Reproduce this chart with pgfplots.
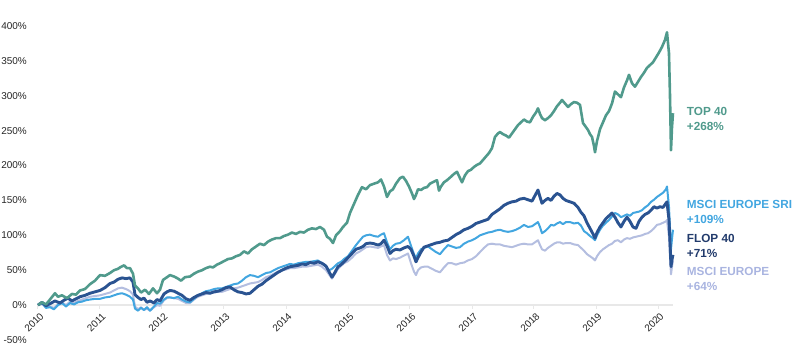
\documentclass[border=0pt]{standalone}
\usepackage{pgfplots}
\usepackage{pgfplotstable}
\usepackage{fontspec}
\setmainfont{Liberation Sans}
\pgfplotsset{compat=1.18}
\definecolor{topc}{HTML}{509A8C}
\definecolor{flopc}{HTML}{2A5391}
\definecolor{flopt}{HTML}{223B6C}
\definecolor{sric}{HTML}{42A6E0}
\definecolor{msc}{HTML}{B4BEE0}
\definecolor{mst}{HTML}{A9B4E0}
\definecolor{gridc}{HTML}{E8E8E8}

% x values: horizontal position (px), year = 2010 + (px-38)/62
\pgfplotstableread{
px v
38 0
42 4
46 1
50 8
55 17
58 12
62 14
67 10
72 16
76 15
80 21
85 23
90 30
95 35
100 43
105 42
110 46
114 50
118 52
120 54
124 57
127 53
130 53
133 45
135 28
138 24
141 18
145 22
149 16
153 24
157 17
160 22
163 36
167 40
170 43
174 41
178 38
181 35
185 40
190 41
194 45
198 48
202 50
206 53
210 55
213 54
217 58
220 60
224 63
228 66
232 67
236 70
240 72
244 77
248 74
252 80
256 84
260 88
264 86
268 91
272 94
276 96
280 96
284 99
288 101
292 104
296 102
300 105
304 104
308 108
312 110
316 109
320 112
324 108
327 98
330 95
333 89
336 100
340 106
343 112
347 118
350 132
354 145
358 158
362 169
366 166
370 172
374 174
378 176
381 180
384 170
387 155
390 163
393 166
396 174
400 182
403 184
406 178
409 170
412 160
414 152
416 158
418 166
421 165
424 168
427 169
430 174
434 177
437 179
439 164
441 170
444 176
447 179
451 184
454 188
457 191
460 182
462 176
465 186
468 192
471 194
474 198
477 201
480 203
483 208
486 213
489 218
492 225
495 241
498 246
500 248
503 245
506 243
509 240
512 246
515 252
518 258
521 262
524 266
527 263
530 262
533 270
536 276
538 282
540 274
542 268
545 265
548 268
551 272
554 278
557 285
560 290
562 294
565 289
568 284
571 288
574 291
577 290
580 287
583 261
586 255
588 251
590 245
592 241
594 228
595 219
597 235
600 252
603 262
606 272
609 278
612 289
615 306
618 302
621 298
624 312
627 322
629 330
632 318
635 313
638 320
641 327
644 333
647 340
650 344
653 348
656 355
659 362
662 370
665 380
667 391
669 361
670 300
671 222
672 255
673 275
}\toptable

\pgfplotstableread{
px v
38 0
42 4
46 -1
50 2
55 6
60 3
64 7
68 10
72 6
76 9
80 12
85 14
90 17
95 19
100 21
105 25
110 31
114 33
118 37
122 39
126 38
130 39
133 33
135 15
138 11
141 8
144 10
147 4
150 6
154 3
157 8
160 6
164 16
167 19
170 21
174 20
178 17
182 14
186 9
190 7
194 11
198 14
202 16
206 18
210 17
214 19
218 20
222 22
226 25
230 26
234 22
238 19
242 18
246 16
250 17
254 22
258 27
262 30
266 35
270 39
274 43
278 47
282 50
286 53
290 55
294 56
298 57
302 59
306 58
310 61
314 60
318 62
322 60
326 56
329 48
332 40
335 47
338 55
341 58
344 62
348 68
352 74
356 80
360 82
363 84
366 88
370 89
374 88
378 86
381 88
384 93
387 85
390 74
393 78
396 80
400 79
404 82
408 84
411 80
414 70
416 62
418 68
421 76
424 83
428 85
432 87
436 89
440 90
444 92
448 93
452 97
456 101
460 104
464 108
468 110
472 113
476 117
480 119
484 121
488 123
492 130
496 134
500 138
504 143
508 146
512 148
516 149
520 152
524 153
528 151
532 149
535 157
538 165
540 155
542 146
545 150
548 153
551 150
554 156
557 160
560 158
563 153
566 150
570 148
574 146
578 140
581 133
584 128
587 118
590 110
593 102
595 96
597 104
600 112
603 118
606 124
609 128
612 132
615 126
618 118
621 112
624 120
627 126
630 120
633 112
636 110
639 120
642 126
645 130
648 132
651 136
654 141
657 139
660 141
663 140
666 146
667 148
669 122
670 90
671 55
672 65
673 72
}\floptable

\pgfplotstableread{
px v
38 0
42 3
46 -4
50 -3
54 -6
58 0
62 3
66 -2
70 3
74 1
78 4
82 5
86 7
90 8
95 9
100 9
105 11
110 12
114 14
118 16
122 17
126 15
130 12
133 8
135 -5
138 -8
141 -4
144 -7
147 -3
150 -8
154 -2
157 3
160 2
164 8
167 11
170 11
174 10
178 12
182 8
186 5
190 4
194 9
198 14
202 17
206 20
210 21
214 23
218 24
222 24
226 26
230 28
234 30
238 31
242 35
246 40
250 43
254 42
258 40
262 43
266 46
270 47
274 50
278 53
282 55
286 57
290 59
294 58
298 60
302 61
306 62
310 62
314 63
318 64
322 60
326 55
329 50
332 52
335 56
338 60
341 62
344 66
348 70
352 78
356 86
360 93
363 98
366 100
370 101
374 99
378 98
381 101
384 103
387 90
390 80
393 85
396 88
400 89
404 93
408 98
411 85
414 73
416 67
418 74
421 80
424 82
428 84
432 80
436 76
440 73
444 80
448 86
452 84
456 82
460 83
464 88
468 91
472 93
476 96
480 100
484 102
488 104
492 105
496 107
500 108
504 106
508 105
512 106
516 108
520 111
524 115
528 112
532 113
535 116
538 119
540 112
542 103
545 106
548 110
551 115
554 114
557 117
560 119
563 116
566 119
570 119
574 117
578 118
581 114
584 106
587 103
590 99
593 96
595 93
597 100
600 108
603 114
606 118
609 122
612 127
615 132
618 130
621 126
624 128
627 130
630 128
633 132
636 133
639 134
642 136
645 140
648 143
651 148
654 151
657 155
660 158
663 161
666 166
667 170
669 141
670 110
671 80
672 95
673 108
}\sritable

\pgfplotstableread{
px v
38 0
42 2
46 -3
50 -2
54 -4
58 1
62 4
66 0
70 5
74 3
78 6
82 8
86 10
90 12
95 13
100 14
105 16
110 18
114 21
118 24
122 25
126 23
130 20
133 15
135 -2
138 -6
141 -3
144 -7
147 -5
150 -8
154 -3
157 0
160 -1
164 7
167 10
170 11
174 10
178 9
182 6
186 3
190 3
194 8
198 12
202 14
206 16
210 17
214 18
218 19
222 19
226 21
230 23
234 24
238 25
242 27
246 29
250 31
254 32
258 33
262 36
266 40
270 42
274 45
278 48
282 50
286 51
290 53
294 53
298 54
302 55
306 55
310 56
314 57
318 58
322 55
326 50
329 44
332 38
335 45
338 52
341 56
344 60
348 63
352 68
356 74
360 77
363 80
366 83
370 84
374 83
378 82
381 84
384 86
387 72
390 64
393 67
396 66
400 68
404 71
408 74
411 60
414 48
416 43
418 50
421 54
424 55
428 55
432 52
436 49
440 47
444 54
448 60
452 60
456 58
460 60
464 61
468 64
472 66
476 70
480 76
484 82
488 87
492 88
496 87
500 87
504 85
508 84
512 83
516 85
520 87
524 88
528 87
532 87
535 90
538 93
540 86
542 80
545 78
548 82
551 85
554 88
557 90
560 90
563 88
566 89
570 89
574 87
578 86
581 82
584 78
587 73
590 70
593 67
595 64
597 70
600 76
603 80
606 83
609 86
612 88
615 92
618 93
621 90
624 94
627 96
630 95
633 97
636 98
639 99
642 100
645 102
648 103
651 106
654 110
657 115
660 116
663 118
666 120
667 122
669 98
670 70
671 44
672 55
673 64
}\mstable

\begin{document}
\begin{tikzpicture}[x=1bp,y=1bp]
\useasboundingbox (-38bp,-14bp) rectangle (762bp,340bp);
\begin{axis}[
  at={(0,0)}, anchor=south west,
  scale only axis, width=635bp, height=314bp,
  xmin=2010, xmax=2020.242, ymin=-50, ymax=400,
  enlargelimits=false, clip=false,
  axis x line=middle, axis y line=left,
  hide obscured x ticks=false,
  x axis line style={-, draw=gridc, line width=1.8bp},
  y axis line style={draw=none},
  xtick={2010,2011,...,2020},
  ytick={-50,0,50,...,400},
  xtick style={draw=gridc, line width=1bp},
  ytick style={draw=none},
  major tick length=4bp,
  xtick align=outside,
  tick label style={font=\fontsize{10}{12}\selectfont, text=black!85},
  /pgf/number format/assume math mode=true,
  xticklabel style={/pgf/number format/1000 sep={}, rotate=45, anchor=north east, inner sep=1bp, yshift=-2bp},
  yticklabel={\pgfmathprintnumber{\tick}\%},
  yticklabel style={anchor=east, inner sep=0pt, xshift=-9bp},
  line join=round,
]
\addplot[no marks, msc, line width=2bp] table[x expr={2010+(\thisrow{px}-38)/62}, y=v] {\mstable};
\addplot[no marks, sric, line width=2bp] table[x expr={2010+(\thisrow{px}-38)/62}, y=v] {\sritable};
\addplot[no marks, flopc, line width=2.9bp] table[x expr={2010+(\thisrow{px}-38)/62}, y=v] {\floptable};
\addplot[no marks, topc, line width=2.6bp] table[x expr={2010+(\thisrow{px}-38)/62}, y=v] {\toptable};

\node[anchor=west, align=left, text=topc, font=\bfseries\fontsize{11.8}{15}\selectfont, inner sep=0pt] at (axis cs:2020.463,267.4) {TOP 40\\+268\%};
\node[anchor=west, align=left, text=sric, font=\bfseries\fontsize{11.8}{15}\selectfont, inner sep=0pt] at (axis cs:2020.463,133.3) {MSCI EUROPE SRI\\+109\%};
\node[anchor=west, align=left, text=flopt, font=\bfseries\fontsize{11.8}{15}\selectfont, inner sep=0pt] at (axis cs:2020.463,84.6) {FLOP 40\\+71\%};
\node[anchor=west, align=left, text=mst, font=\bfseries\fontsize{11.8}{15}\selectfont, inner sep=0pt] at (axis cs:2020.463,37.3) {MSCI EUROPE\\+64\%};
\end{axis}
\end{tikzpicture}
\end{document}
